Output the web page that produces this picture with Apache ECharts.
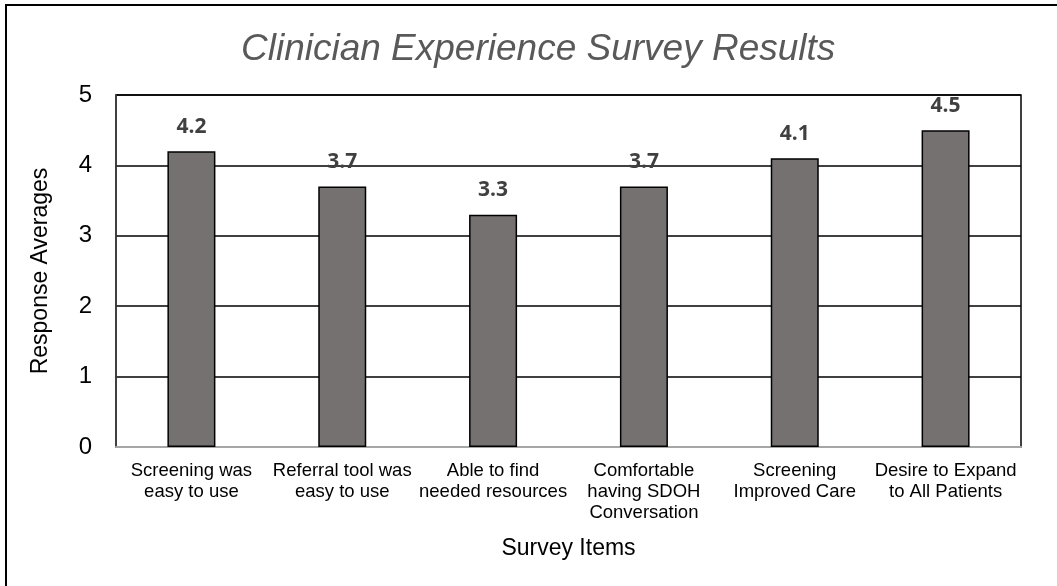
<!DOCTYPE html>
<html>
<head>
<meta charset="utf-8">
<script src="https://cdn.jsdelivr.net/npm/echarts@6/dist/echarts.min.js"></script>
<style>
html, body { margin: 0; padding: 0; background: #fff; }
#chart { width: 1057px; height: 586px; }
</style>
</head>
<body>
<div id="chart"></div>
<script>
var categories = [
	'Screening was\neasy to use',
	'Referral tool was\neasy to use',
	'Able to find\nneeded resources',
	'Comfortable\nhaving SDOH\nConversation',
	'Screening\nImproved Care',
	'Desire to Expand\nto All Patients'
];
var averages = [4.2, 3.7, 3.3, 3.7, 4.1, 4.5];

var chart = echarts.init(document.getElementById('chart'));
chart.setOption({
	animation: false,
	textStyle: { fontFamily: 'Liberation Sans, Arial, sans-serif' },
	title: {
		text: 'Clinician Experience Survey Results',
		left: 236,
		top: 26,
		textStyle: {
			fontSize: 37,
			fontStyle: 'italic',
			fontWeight: 'normal',
			color: '#595959'
		}
	},
	graphic: [{
		type: 'rect',
		shape: { x: 6, y: 5, width: 1200, height: 800 },
		style: { fill: 'none', stroke: '#000', lineWidth: 2 },
		silent: true
	}],
	grid: {
		left: 116,
		right: 36,
		top: 95,
		bottom: 139,
		show: true,
		borderColor: '#000',
		borderWidth: 1.5
	},
	xAxis: {
		type: 'category',
		data: categories,
		name: 'Survey Items',
		nameLocation: 'middle',
		nameGap: 90,
		nameTextStyle: { fontSize: 23, color: '#000' },
		axisLine: { lineStyle: { color: '#a6a6a6', width: 2 } },
		axisTick: { show: false },
		axisLabel: {
			color: '#000',
			fontSize: 18.5,
			lineHeight: 21,
			margin: 13,
			interval: 0
		}
	},
	yAxis: {
		type: 'value',
		min: 0,
		max: 5,
		interval: 1,
		name: 'Response Averages',
		nameLocation: 'middle',
		nameGap: 64,
		nameTextStyle: { fontSize: 23, color: '#000' },
		axisLine: { show: true, lineStyle: { color: '#404040', width: 1.5 } },
		axisTick: { show: false },
		splitLine: { lineStyle: { color: '#000', width: 1.5 } },
		axisLabel: { color: '#000', fontSize: 24, margin: 24 }
	},
	series: [{
		type: 'bar',
		data: averages,
		barWidth: 48,
		itemStyle: {
			color: '#767171',
			borderColor: '#000',
			borderWidth: 1.5
		},
		label: {
			show: true,
			position: 'top',
			distance: 14,
			fontSize: 21,
			lineHeight: 21,
			fontWeight: 'bold',
			fontFamily: 'Open Sans, sans-serif',
			color: '#404040',
			formatter: function(p) {
				return p.value.toFixed(1);
			}
		}
	}]
});
</script>
</body>
</html>
